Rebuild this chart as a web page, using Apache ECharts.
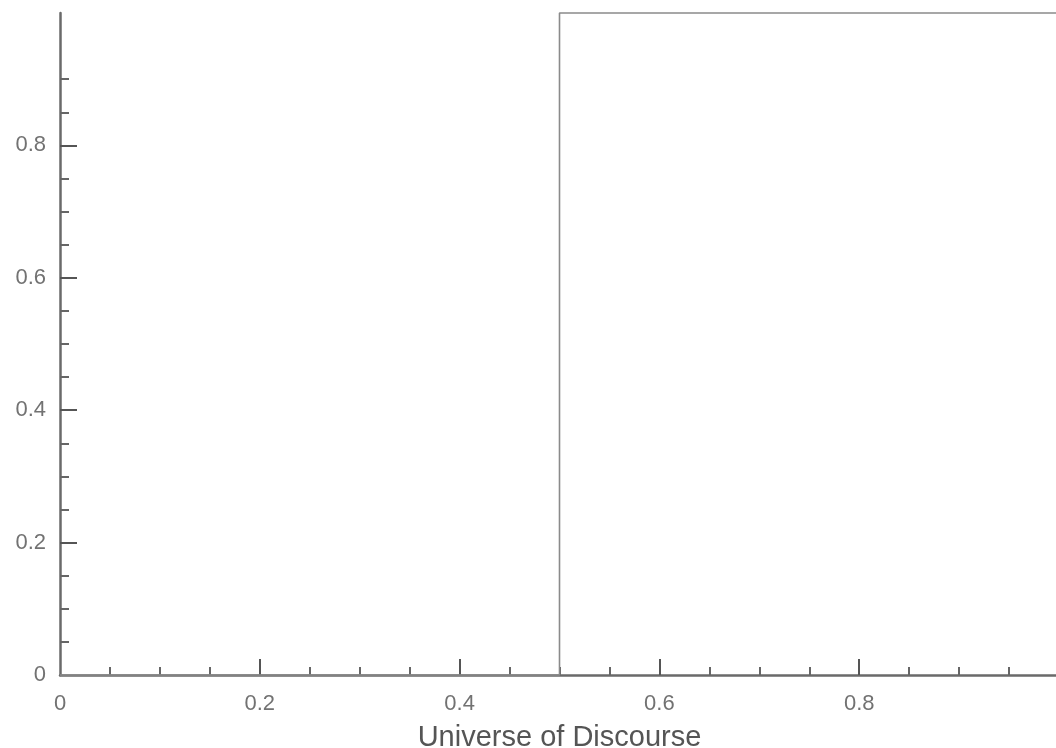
<!DOCTYPE html>
<html>
<head>
<meta charset="utf-8">
<script src="https://cdn.jsdelivr.net/npm/echarts@6/dist/echarts.min.js"></script>
<style>html,body{margin:0;padding:0;background:#fff;}#c{width:1056px;height:748px;}</style>
</head>
<body>
<div id="c"></div>
<script>
// Crisp set membership: 0 below 0.5, 1 from 0.5 up
const xValues = [0, 0.5, 0.5, 1];
const yValues = [0, 0, 1, 1];
const xMajorTicks = [0.2, 0.4, 0.6, 0.8];
const xMinorTicks = [0.05, 0.1, 0.15, 0.25, 0.3, 0.35, 0.45, 0.5, 0.55, 0.65, 0.7, 0.75, 0.85, 0.9, 0.95];
const xLabels = [0, 0.2, 0.4, 0.6, 0.8];
const yMajorTicks = [0.2, 0.4, 0.6, 0.8];
const yMinorTicks = [0.05, 0.1, 0.15, 0.25, 0.3, 0.35, 0.45, 0.5, 0.55, 0.65, 0.7, 0.75, 0.85, 0.9];
const yLabels = [0, 0.2, 0.4, 0.6, 0.8];
const xTitle = 'Universe of Discourse';

const font = 'Liberation Sans, Arial, Helvetica, sans-serif';
const axisCol = '#6a6a6a';
const fmt = v => (v === 0 ? '0' : String(+v.toFixed(2)));

const chart = echarts.init(document.getElementById('c'), null, {renderer: 'canvas'});
const baseX = {
  type: 'value', min: 0, max: 1, gridIndex: 0,
  splitLine: {show: false}
};
const baseY = {
  type: 'value', min: 0, max: 1, gridIndex: 0,
  splitLine: {show: false}
};
chart.setOption({
  backgroundColor: '#ffffff',
  animation: false,
  grid: {left: 60, right: -3, top: 13, bottom: 73, containLabel: false, outerBoundsMode: 'none'},
  xAxis: [
    Object.assign({}, baseX, {
      position: 'bottom',
      axisLine: {show: true, lineStyle: {color: axisCol, width: 2.5}},
      axisTick: {show: true, inside: true, length: 16, customValues: xMajorTicks, lineStyle: {color: '#555', width: 2}},
      axisLabel: {show: true, customValues: xLabels, formatter: fmt, color: '#727272', fontFamily: font, fontSize: 22, margin: 18},
      name: xTitle, nameLocation: 'middle', nameGap: 48,
      nameTextStyle: {color: '#555', fontFamily: font, fontSize: 29}
    }),
    Object.assign({}, baseX, {
      position: 'bottom',
      axisLine: {show: false},
      axisTick: {show: true, inside: true, length: 8, customValues: xMinorTicks, lineStyle: {color: '#666', width: 2}},
      axisLabel: {show: false}
    })
  ],
  yAxis: [
    Object.assign({}, baseY, {
      position: 'left',
      axisLine: {show: true, lineStyle: {color: axisCol, width: 2.5}},
      axisTick: {show: true, inside: true, length: 17, customValues: yMajorTicks, lineStyle: {color: '#555', width: 2}},
      axisLabel: {show: true, customValues: yLabels, formatter: fmt, color: '#727272', fontFamily: font, fontSize: 22, margin: 14}
    }),
    Object.assign({}, baseY, {
      position: 'left',
      axisLine: {show: false},
      axisTick: {show: true, inside: true, length: 9, customValues: yMinorTicks, lineStyle: {color: '#666', width: 2}},
      axisLabel: {show: false}
    })
  ],
  series: [{
    type: 'line',
    xAxisIndex: 0, yAxisIndex: 0,
    data: xValues.map((x, i) => [x, yValues[i]]),
    showSymbol: false, symbol: 'none',
    clip: false,
    lineStyle: {color: '#8a8a8a', width: 1.6},
    z: 1
  }]
});
</script>
</body>
</html>
